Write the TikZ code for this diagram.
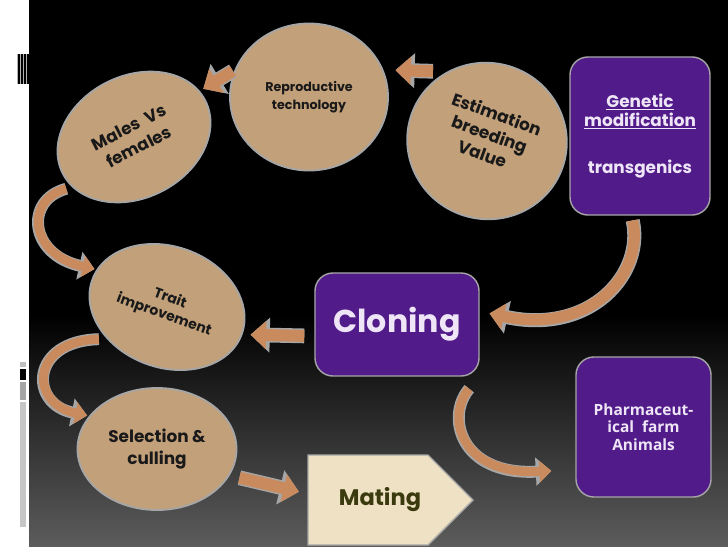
\documentclass[tikz,border=0pt]{standalone}
\usepackage{fontspec}
\usetikzlibrary{shapes.geometric,arrows.meta}
\newfontfamily\geofont{Poppins}
\newfontfamily\openfont{Open Sans}
\definecolor{papertan}{HTML}{C2A07A}
\definecolor{rimgray}{HTML}{A6A6A6}
\definecolor{grape}{HTML}{521B8A}
\definecolor{copper}{HTML}{C98B5E}
\definecolor{cream}{HTML}{EFE2C4}
\definecolor{olive}{HTML}{3A3A0E}
\definecolor{lilac}{HTML}{EEE6F7}
\definecolor{floor}{HTML}{5C5C5C}
\tikzset{
  crumple/.style={ellipse, draw=rimgray, line width=1.3pt, fill=papertan, inner sep=0pt, align=center, text=black!90},
  purplebox/.style={rectangle, rounded corners=0.45cm, draw=rimgray, line width=1pt, fill=grape, inner sep=0pt, align=center, text=lilac},
  arrowbody/.style={draw=copper, -{Triangle[length=0pt 1.3,width=0pt 2.3]}},
  blockarr/.style={arrowbody, line width=8.5pt, preaction={arrowbody, draw=rimgray, line width=10.5pt}},
  bendarr/.style={arrowbody, line width=6.5pt, preaction={arrowbody, draw=rimgray, line width=8.5pt}},
  bigbend/.style={arrowbody, line width=8pt, preaction={arrowbody, draw=rimgray, line width=10pt}},
}

\begin{document}
\begin{tikzpicture}[x=0.025cm, y=-0.025cm]
	%%%%% START %%%%%
	\useasboundingbox (0,0) rectangle (728,546);

	% slide background
	\fill[white] (0,0) rectangle (29,546);
	\fill[black] (29,0) rectangle (728,315);
	\shade[top color=black, bottom color=floor] (29,315) rectangle (728,546);

	% marks on the left edge
	\fill[gray!60] (17,54) rectangle (29,84);
	\foreach \sx in {18,21,24,27} \fill[black] (\sx,54) rectangle (\sx+1.5,84);
	\fill[gray!50] (20,362) rectangle (26,367);
	\fill[black] (20,369) rectangle (26,380);
	\fill[gray!70] (20,382) rectangle (26,400);
	\fill[gray!45] (20,402) rectangle (26,527);

	% circles
	\node[crumple, rotate=27, minimum width=4cm, minimum height=3.05cm, font=\geofont\bfseries\fontsize{12}{15.5}\selectfont] (males) at (134,137) {Males\ \ Vs\\females};
	\node[crumple, minimum width=3.95cm, minimum height=3.675cm, font=\geofont\bfseries\fontsize{9}{13}\selectfont] (repro) at (309,97) {Reproductive\\technology};
	\node[crumple, rotate=-20, minimum width=4cm, minimum height=3.9cm, text depth=11pt, font=\geofont\bfseries\fontsize{12}{15}\selectfont] (estim) at (487,141) {Estimation\\breeding\\Value};
	\node[crumple, rotate=-20, minimum width=3.975cm, minimum height=3.025cm, font=\geofont\bfseries\fontsize{10}{12.5}\selectfont] (trait) at (167,307) {Trait\\improvement};
	\node[crumple, minimum width=3.975cm, minimum height=3.05cm, font=\geofont\bfseries\fontsize{12}{16}\selectfont] (select) at (157,449) {Selection \&\\culling};

	% purple boxes
	\node[purplebox, minimum width=3.5cm, minimum height=3.95cm, font=\geofont\bfseries\fontsize{12}{13.5}\selectfont] (genetic) at (640,136) {\underline{Genetic}\\\underline{modification}\\[20pt]transgenics};
	\node[purplebox, minimum width=4.1cm, minimum height=2.575cm, font=\geofont\bfseries\fontsize{22.5}{26}\selectfont] (cloning) at (397,324.5) {Cloning};
	\node[purplebox, minimum width=3.375cm, minimum height=3.5cm, font=\openfont\bfseries\fontsize{11}{12.5}\selectfont] (pharma) at (643.5,427) {Pharmaceut-\\ical\ \ farm\\Animals};

	% mating tag
	\filldraw[fill=cream, draw=rimgray, line width=1pt] (308,455) -- (428,455) -- (473,500) -- (428,545) -- (308,545) -- cycle;
	\node[font=\geofont\bfseries\fontsize{16}{18}\selectfont, text=olive] (mating) at (380,500) {Mating};

	% arrows
	\draw[blockarr, shorten <=0.35cm, shorten >=0.3cm] (estim.140) -- (repro.20);
	\draw[blockarr, shorten <=0.05cm, shorten >=0.1cm] (repro.160) -- (males.8);
	\draw[bendarr, shorten <=0.15cm, shorten >=0.05cm] (males.192) .. controls +(-48,13) and +(-67,-15) .. (trait.172);
	\draw[bendarr, shorten <=0.2cm, shorten >=0.05cm] (trait.228) .. controls +(-77,2) and +(-60,-12) .. (select.154);
	\draw[blockarr, shorten <=0.25cm, shorten >=0.2cm] (cloning.188) -- (trait.0);
	\draw[blockarr, shorten <=0.25cm, shorten >=0.9cm] (select.-20) -- (mating.west);
	\draw[bigbend, shorten <=0.12cm, shorten >=0.25cm] (genetic.-96) .. controls +(13,58) and +(111,23.5) .. (cloning.9);
	\draw[bendarr, shorten <=0.4cm, shorten >=0.6cm] (cloning.south east) .. controls +(-34,39) and +(-116,6) .. (pharma.212);

	%%%%% END %%%%%
\end{tikzpicture}
\end{document}
